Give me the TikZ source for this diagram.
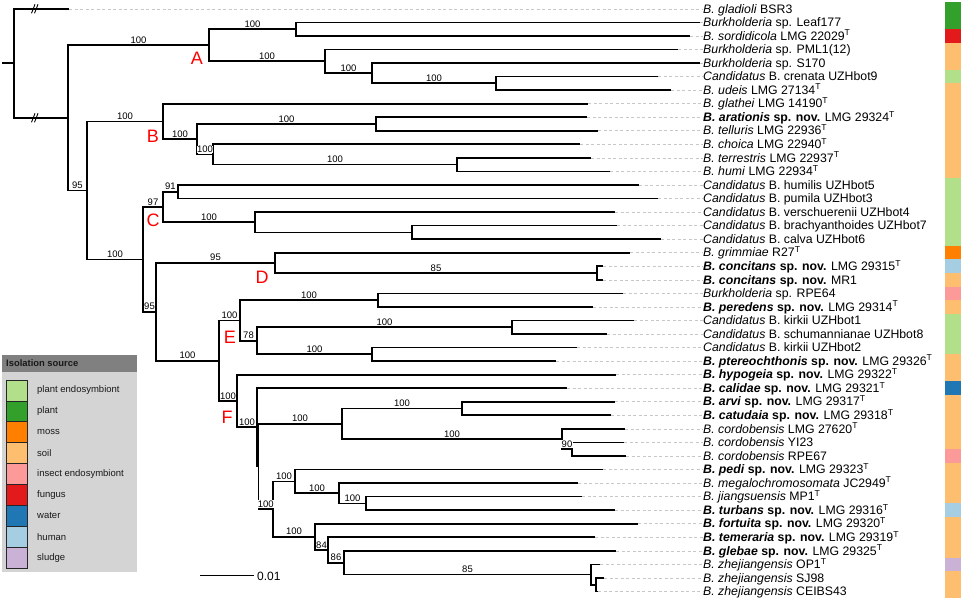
\documentclass[tikz,border=0pt]{standalone}
\usepackage{fontspec}
\setmainfont{Liberation Sans}
\newcommand\supT{\textsuperscript{T}}
\newcommand\labfont{\fontsize{12.3}{14}\selectfont}
\newcommand\bsfont{\fontsize{9.5}{11}\selectfont}
\newcommand\cladefont{\fontsize{18}{20}\selectfont}
\newcommand\legfont{\fontsize{9.5}{11}\selectfont}
\newcommand\legheadfont{\fontsize{9.4}{11}\selectfont\bfseries}
\newcommand\scalefont{\fontsize{12}{14}\selectfont}
\definecolor{cPE}{HTML}{B2DF8A}
\definecolor{cPlant}{HTML}{33A02C}
\definecolor{cMoss}{HTML}{FF7F00}
\definecolor{cSoil}{HTML}{FDBF6F}
\definecolor{cInsect}{HTML}{FB9A99}
\definecolor{cFungus}{HTML}{E31A1C}
\definecolor{cWater}{HTML}{1F78B4}
\definecolor{cHuman}{HTML}{A6CEE3}
\definecolor{cSludge}{HTML}{CAB2D6}
\definecolor{lgHead}{HTML}{808080}
\definecolor{lgBody}{HTML}{D4D4D4}
\begin{document}
\begin{tikzpicture}[x=1pt,y=-1pt,
  branch/.style={line width=1.7pt, line join=miter},
  leader/.style={draw=black!22, line width=0.6pt, dash pattern=on 3pt off 2.5pt},
  lab/.style={anchor=base west, inner sep=0pt, yshift=-4.2pt, font=\labfont},
  bs/.style={anchor=south, inner sep=0.4pt, fill=white, yshift=1.2pt, font=\bsfont},
  clade/.style={text=red, font=\cladefont, inner sep=0pt},
  brk/.style={line width=0.9pt}]
\useasboundingbox (0,0) rectangle (964,603);

% ---- tips ----
\foreach \k/\x in {1/69,2/700,3/690,4/678,5/700,6/658,7/671,8/588,9/587,10/598,
  11/580,12/591,13/610,14/639,15/658,16/615,17/617,18/661,19/630,20/603,
  21/603,22/623,23/593,24/634,25/607,26/577,27/556,28/616,29/567,30/615,
  31/611,32/625,33/624,34/626,35/603,36/578,37/582,38/615,39/638,40/595,
  41/616,42/600,43/604,44/598}
  \coordinate (t\k) at (\x,{8.8+(\k-1)*13.55});

% ---- internal nodes ----
\coordinate (r0) at (2,63.3);
\coordinate (root) at (14,63.3);
\coordinate (n68) at (68,117.81);
\coordinate (nA) at (209,45.22);
\coordinate (n296) at (296,29.125);
\coordinate (n325) at (325,61.31);
\coordinate (n372) at (372,73.16);
\coordinate (n496) at (496,83.325);
\coordinate (n87) at (87,190.405);
\coordinate (nB) at (163,121.43);
\coordinate (n197) at (197,139.22);
\coordinate (n376) at (376,123.975);
\coordinate (n213) at (213,154.46);
\coordinate (n457) at (457,164.625);
\coordinate (n143) at (143,259.38);
\coordinate (nC) at (163,206.97);
\coordinate (n178) at (178,191.725);
\coordinate (n255) at (255,222.21);
\coordinate (n412) at (412,232.375);
\coordinate (n156) at (156,311.79);
\coordinate (nD) at (275,262.86);
\coordinate (n597) at (597,273.03);
\coordinate (n219) at (219,360.715);
\coordinate (nE) at (240,320.45);
\coordinate (n378) at (378,300.125);
\coordinate (nEE) at (257,340.775);
\coordinate (n512) at (512,327.225);
\coordinate (n372b) at (372,354.325);
\coordinate (nF) at (237,400.98);
\coordinate (nF2) at (257,427.315);
\coordinate (nF3) at (258.5,466.43);
\coordinate (n342) at (342,423.77);
\coordinate (n462) at (462,408.525);
\coordinate (n562) at (562,439.01);
\coordinate (n572) at (572,449.175);
\coordinate (n273) at (273,509.09);
\coordinate (n295) at (295,481.355);
\coordinate (n339) at (339,493.21);
\coordinate (n366) at (366,503.375);
\coordinate (n315) at (315,536.825);
\coordinate (n328) at (328,549.95);
\coordinate (n344) at (344,562.655);
\coordinate (n591) at (591,574.51);
\coordinate (n596) at (596,584.675);

% ---- labels ----
\node[lab] (l1) at (703,8.8) {\textit{B. gladioli} BSR3};
\node[lab] (l2) at (703,22.35) {\textit{Burkholderia} sp. Leaf177};
\node[lab] (l3) at (703,35.9) {\textit{B. sordidicola} LMG 22029\supT};
\node[lab] (l4) at (703,49.45) {\textit{Burkholderia} sp. PML1(12)};
\node[lab] (l5) at (703,63.0) {\textit{Burkholderia} sp. S170};
\node[lab] (l6) at (703,76.55) {\textit{Candidatus} B. crenata UZHbot9};
\node[lab] (l7) at (703,90.1) {\textit{B. udeis} LMG 27134\supT};
\node[lab] (l8) at (703,103.65) {\textit{B. glathei} LMG 14190\supT};
\node[lab] (l9) at (703,117.2) {\textbf{\textit{B. arationis} sp. nov.} LMG 29324\supT};
\node[lab] (l10) at (703,130.75) {\textit{B. telluris} LMG 22936\supT};
\node[lab] (l11) at (703,144.3) {\textit{B. choica} LMG 22940\supT};
\node[lab] (l12) at (703,157.85) {\textit{B. terrestris} LMG 22937\supT};
\node[lab] (l13) at (703,171.4) {\textit{B. humi} LMG 22934\supT};
\node[lab] (l14) at (703,184.95) {\textit{Candidatus} B. humilis UZHbot5};
\node[lab] (l15) at (703,198.5) {\textit{Candidatus} B. pumila UZHbot3};
\node[lab] (l16) at (703,212.05) {\textit{Candidatus} B. verschuerenii UZHbot4};
\node[lab] (l17) at (703,225.6) {\textit{Candidatus} B. brachyanthoides UZHbot7};
\node[lab] (l18) at (703,239.15) {\textit{Candidatus} B. calva UZHbot6};
\node[lab] (l19) at (703,252.7) {\textit{B. grimmiae} R27\supT};
\node[lab] (l20) at (703,266.25) {\textbf{\textit{B. concitans} sp. nov.} LMG 29315\supT};
\node[lab] (l21) at (703,279.8) {\textbf{\textit{B. concitans} sp. nov.} MR1};
\node[lab] (l22) at (703,293.35) {\textit{Burkholderia} sp. RPE64};
\node[lab] (l23) at (703,306.9) {\textbf{\textit{B. peredens} sp. nov.} LMG 29314\supT};
\node[lab] (l24) at (703,320.45) {\textit{Candidatus} B. kirkii UZHbot1};
\node[lab] (l25) at (703,334.0) {\textit{Candidatus} B. schumannianae UZHbot8};
\node[lab] (l26) at (703,347.55) {\textit{Candidatus} B. kirkii UZHbot2};
\node[lab] (l27) at (703,361.1) {\textbf{\textit{B. ptereochthonis} sp. nov.} LMG 29326\supT};
\node[lab] (l28) at (703,374.65) {\textbf{\textit{B. hypogeia} sp. nov.} LMG 29322\supT};
\node[lab] (l29) at (703,388.2) {\textbf{\textit{B. calidae} sp. nov.} LMG 29321\supT};
\node[lab] (l30) at (703,401.75) {\textbf{\textit{B. arvi} sp. nov.} LMG 29317\supT};
\node[lab] (l31) at (703,415.3) {\textbf{\textit{B. catudaia} sp. nov.} LMG 29318\supT};
\node[lab] (l32) at (703,428.85) {\textit{B. cordobensis} LMG 27620\supT};
\node[lab] (l33) at (703,442.4) {\textit{B. cordobensis} YI23};
\node[lab] (l34) at (703,455.95) {\textit{B. cordobensis} RPE67};
\node[lab] (l35) at (703,469.5) {\textbf{\textit{B. pedi} sp. nov.} LMG 29323\supT};
\node[lab] (l36) at (703,483.05) {\textit{B. megalochromosomata} JC2949\supT};
\node[lab] (l37) at (703,496.6) {\textit{B. jiangsuensis} MP1\supT};
\node[lab] (l38) at (703,510.15) {\textbf{\textit{B. turbans} sp. nov.} LMG 29316\supT};
\node[lab] (l39) at (703,523.7) {\textbf{\textit{B. fortuita} sp. nov.} LMG 29320\supT};
\node[lab] (l40) at (703,537.25) {\textbf{\textit{B. temeraria} sp. nov.} LMG 29319\supT};
\node[lab] (l41) at (703,550.8) {\textbf{\textit{B. glebae} sp. nov.} LMG 29325\supT};
\node[lab] (l42) at (703,564.35) {\textit{B. zhejiangensis} OP1\supT};
\node[lab] (l43) at (703,577.9) {\textit{B. zhejiangensis} SJ98};
\node[lab] (l44) at (703,591.45) {\textit{B. zhejiangensis} CEIBS43};

% ---- leaders ----
\foreach \k in {1,...,44}
  \draw[leader] (t\k) -- (t\k -| l\k.west);

% ---- branches ----
\draw[branch] (r0) -- (root);
\foreach \p/\c in {root/t1,root/n68,n68/nA,n68/n87,nA/n296,nA/n325,
  n296/t2,n296/t3,n325/t4,n325/n372,n372/t5,n372/n496,n496/t6,n496/t7,
  n87/nB,n87/n143,nB/t8,nB/n197,n197/n376,n197/n213,n376/t9,n376/t10,
  n213/t11,n213/n457,n457/t12,n457/t13,n143/nC,n143/n156,nC/n178,nC/n255,
  n178/t14,n178/t15,n255/t16,n255/n412,n412/t17,n412/t18,n156/nD,n156/n219,
  nD/t19,nD/n597,n597/t20,n597/t21,n219/nE,n219/nF,nE/n378,nE/nEE,
  n378/t22,n378/t23,nEE/n512,nEE/n372b,n512/t24,n512/t25,n372b/t26,n372b/t27,
  nF/t28,nF/nF2,nF2/t29,nF2/nF3,nF3/n342,nF3/n273,n342/n462,n342/n562,
  n462/t30,n462/t31,n562/t32,n562/n572,n572/t33,n572/t34,n273/n295,n273/n315,
  n295/t35,n295/n339,n339/t36,n339/n366,n366/t37,n366/t38,n315/t39,n315/n328,
  n328/t40,n328/n344,n344/t41,n344/n591,n591/t42,n591/n596,n596/t43,n596/t44}
  \draw[branch] (\p) |- (\c);

% ---- axis breaks ----
\draw[brk] (31.5,13.3) -- (35,4.3);
\draw[brk] (34.5,13.3) -- (38,4.3);
\draw[brk] (31.5,122.3) -- (35,113.3);
\draw[brk] (34.5,122.3) -- (38,113.3);

% ---- bootstrap values ----
\node[bs] (b1) at (138.5,45.22) {100};
\node[bs] (b2) at (252.5,29.125) {100};
\node[bs] (b3) at (267,61.31) {100};
\node[bs] (b4) at (348.5,73.16) {100};
\node[bs] (b5) at (434,83.325) {100};
\node[bs] (b6) at (77.5,190.405) {95};
\node[bs] (b7) at (125,121.43) {100};
\node[bs] (b8) at (180,139.22) {100};
\node[bs] (b9) at (286.5,123.975) {100};
\node[bs] (b10) at (205,154.46) {100};
\node[bs] (b11) at (335,164.625) {100};
\node[bs] (b12) at (115,259.38) {100};
\node[bs] (b13) at (153,206.97) {97};
\node[bs] (b14) at (170.5,191.725) {91};
\node[bs] (b15) at (209,222.21) {100};
\node[bs] (b16) at (149.5,311.79) {95};
\node[bs] (b17) at (215.5,262.86) {95};
\node[bs] (b18) at (436,273.03) {85};
\node[bs] (b19) at (187.5,360.715) {100};
\node[bs] (b20) at (229.5,320.45) {100};
\node[bs] (b21) at (309,300.125) {100};
\node[bs] (b22) at (248.5,340.775) {78};
\node[bs] (b23) at (384.5,327.225) {100};
\node[bs] (b24) at (314.5,354.325) {100};
\node[bs] (b25) at (228,400.98) {100};
\node[bs] (b26) at (247,427.315) {100};
\node[bs] (b27) at (300,423.77) {100};
\node[bs] (b28) at (402,408.525) {100};
\node[bs] (b29) at (452,439.01) {100};
\node[bs] (b30) at (567,449.175) {90};
\node[bs] (b31) at (265.75,509.09) {100};
\node[bs] (b32) at (284,481.355) {100};
\node[bs] (b33) at (317,493.21) {100};
\node[bs] (b34) at (352.5,503.375) {100};
\node[bs] (b35) at (294,536.825) {100};
\node[bs] (b36) at (321.5,549.95) {84};
\node[bs] (b37) at (336,562.655) {86};
\node[bs] (b38) at (467.5,574.51) {85};

% ---- clade letters ----
\node[clade] (cA) at (197,58) {A};
\node[clade] (cB) at (153,136.5) {B};
\node[clade] (cC) at (153,220) {C};
\node[clade] (cD) at (262,277) {D};
\node[clade] (cE) at (230,337) {E};
\node[clade] (cF) at (227,417) {F};

% ---- scale bar ----
\coordinate (sb1) at (200,575);
\coordinate (sb2) at (254,575);
\draw[line width=0.9pt] (sb1) -- (sb2);
\node[anchor=west, inner sep=0pt, font=\scalefont] (sbl) at (257,576) {0.01};

% ---- colour strip ----
\foreach \k/\c in {1/cPlant,2/cPlant,3/cFungus,4/cSoil,5/cSoil,6/cPE,7/cSoil,8/cSoil,
  9/cSoil,10/cSoil,11/cSoil,12/cSoil,13/cSoil,14/cPE,15/cPE,16/cPE,17/cPE,18/cPE,
  19/cMoss,20/cHuman,21/cSoil,22/cInsect,23/cSoil,24/cPE,25/cPE,26/cPE,27/cSoil,
  28/cSoil,29/cWater,30/cSoil,31/cSoil,32/cSoil,33/cSoil,34/cInsect,35/cSoil,
  36/cSoil,37/cSoil,38/cHuman,39/cSoil,40/cSoil,41/cSoil,42/cSludge,43/cSoil,44/cSoil}
  \fill[\c] (945,{8.8+(\k-1)*13.55-6.85}) rectangle (961,{8.8+(\k-1)*13.55+6.85});

% ---- legend ----
\fill[lgHead] (2,355) rectangle (137,372);
\node[anchor=west, inner sep=0pt, font=\legheadfont, text=black!90] (lh) at (6,363.5) {Isolation source};
\fill[lgBody] (2,372) rectangle (137,572);
\foreach \i/\c/\t in {0/cPE/plant endosymbiont,1/cPlant/plant,2/cMoss/moss,3/cSoil/soil,
  4/cInsect/insect endosymbiont,5/cFungus/fungus,6/cWater/water,7/cHuman/human,8/cSludge/sludge}{
  \draw[fill=\c, draw=black!85, line width=0.7pt] (6,{380+\i*20.9}) rectangle (27,{380+(\i+1)*20.9});
  \node[anchor=west, inner sep=0pt, font=\legfont, text=black!90] (lg\i) at (37,{380+(\i+0.5)*20.9}) {\t};
}
\end{tikzpicture}
\end{document}
